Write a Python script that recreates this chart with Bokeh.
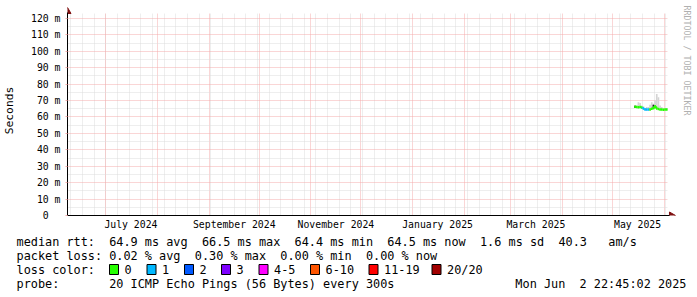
import math
import re
import pandas as pd
from bokeh.plotting import figure
from bokeh.layouts import column
from bokeh.models import Range1d, FixedTicker, ColumnDataSource
from bokeh.core.properties import value
from bokeh.embed import file_html
from bokeh.resources import INLINE

# ---------------- data ----------------
range_start = "2024-06-07 22:45:02"
range_end = "2025-06-02 22:45:02"

days = ["2025-05-14", "2025-05-15", "2025-05-16", "2025-05-17", "2025-05-18",
        "2025-05-19", "2025-05-20", "2025-05-21", "2025-05-22", "2025-05-23",
        "2025-05-24", "2025-05-25", "2025-05-26", "2025-05-27", "2025-05-28",
        "2025-05-29", "2025-05-30", "2025-05-31", "2025-06-01", "2025-06-02"]
median_ms = [66.2, 66.0, 65.9, 66.1, 65.8, 65.2, 64.6, 64.5, 64.5, 64.6,
             65.0, 65.3, 66.5, 65.2, 64.8, 64.6, 64.5, 64.4, 64.5, 64.5]
loss_count = [0, 0, 0, 0, 0, 1, 1, 1, 1, 0, 0, 0, 0, 0, 0, 0, 0, 0, 0, 0]
smoke_lo = [65.6, 65.5, 65.3, 65.5, 65.2, 64.7, 64.1, 64.0, 64.0, 64.1,
            64.5, 64.8, 65.8, 64.7, 64.3, 64.1, 64.0, 63.9, 64.0, 64.0]
smoke_hi = [66.8, 67.0, 69.0, 68.5, 67.0, 66.5, 65.5, 66.0, 66.0, 67.5,
            69.0, 68.0, 70.0, 74.0, 72.0, 67.0, 66.0, 65.5, 65.5, 65.5]
# dense (dark) part of the smoke, only where visible
dark_days = ["2025-05-14", "2025-05-25"]
dark_lo = [65.4, 64.8]
dark_hi = [66.8, 67.4]

y_ticks = [0, 10, 20, 30, 40, 50, 60, 70, 80, 90, 100, 110, 120]
y_tick_labels = ["0\u00a0\u00a0", "10 m", "20 m", "30 m", "40 m", "50 m", "60 m",
                 "70 m", "80 m", "90 m", "100 m", "110 m", "120 m"]
x_tick_dates = ["2024-07-16", "2024-09-16", "2024-11-16", "2025-01-16",
                "2025-03-16", "2025-05-16"]
x_tick_labels = ["July 2024", "September 2024", "November 2024",
                 "January 2025", "March 2025", "May 2025"]

loss_names = ["0", "1", "2", "3", "4-5", "6-10", "11-19", "20/20"]
loss_colors = ["#26ff00", "#00b8ff", "#0059ff", "#7e00ff", "#ff00ff",
               "#ff5500", "#ff0000", "#a10000"]

rtt_stats = ["64.9 ms avg", "66.5 ms max", "64.4 ms min", "64.5 ms now",
             "1.6 ms sd", "40.3"]
rtt_unit = "am/s"
loss_stats = ["0.02 % avg", "0.30 % max", "0.00 % min", "0.00 % now"]
probe_text = "20 ICMP Echo Pings (56 Bytes) every 300s"
stamp_text = "Mon Jun  2 22:45:02 2025"
watermark = "RRDTOOL / TOBI OETIKER"

# ---------------- helpers ----------------
DAY = 86400000.0
MONO = "DejaVu Sans Mono"


def ms(s):
    return pd.Timestamp(s).value / 1e6


def keep_spaces(s):
    return re.sub(r" {2,}", lambda m: " " + "\u00a0" * (len(m.group()) - 1), s)


def color_for(n):
    if n <= 3:
        return loss_colors[n]
    if n <= 5:
        return loss_colors[4]
    if n <= 10:
        return loss_colors[5]
    if n <= 19:
        return loss_colors[6]
    return loss_colors[7]


# canvas geometry of the graph area
GL, GR, GT, GB = 67, 667, 13, 215          # data area
FT = 5                                      # frame top (room for arrow)
W, H_TOP = 697, 232
Y_MAX = 123.0

t0, t1 = ms(range_start), ms(range_end)
xpp = (t1 - t0) / (GR - GL)                 # ms per pixel
ypp = Y_MAX / (GB - GT)                      # value per pixel
x_end = t1 + xpp * (W - GR)
y_end = Y_MAX + ypp * (GT - FT)


def X(px):
    return t0 + (px - GL) * xpp


def Y(py):
    return (GB - py) * ypp


p = figure(width=W, height=H_TOP, output_backend="svg", toolbar_location=None,
           x_range=Range1d(t0, x_end), y_range=Range1d(0, y_end),
           min_border_left=GL, min_border_right=0, min_border_top=FT,
           min_border_bottom=H_TOP - GB)
p.outline_line_color = None
p.background_fill_color = "white"
p.border_fill_color = "white"

# grid
MAJ, MIN = "#f4adad", "#dcdcdc"
month_starts = [ms(d) for d in pd.date_range("2024-07-01", "2025-06-01", freq="MS")]
week_starts = [ms(d) for d in pd.date_range("2024-06-10", "2025-06-02", freq="7D")]
p.xgrid.ticker = FixedTicker(ticks=month_starts, minor_ticks=week_starts)
p.ygrid.ticker = FixedTicker(ticks=y_ticks[1:], minor_ticks=[v + 5 for v in y_ticks[:-1]])
for g in (p.xgrid, p.ygrid):
    g.grid_line_color = MAJ
    g.grid_line_dash = "1 1"
    g.grid_line_width = 1
    g.minor_grid_line_color = MIN
    g.minor_grid_line_dash = "1 1"
    g.minor_grid_line_width = 1

# axes
xa = p.xaxis[0]
xa.ticker = FixedTicker(ticks=[ms(d) for d in x_tick_dates])
xa.major_label_overrides = {ms(d): t for d, t in zip(x_tick_dates, x_tick_labels)}
xa.major_tick_out = 0
xa.major_tick_in = 0
xa.minor_tick_out = 0
xa.minor_tick_in = 0
xa.major_label_standoff = 3
xa.axis_line_color = "black"
xa.bounds = (X(GL - 5), X(GR + 2))

ya = p.yaxis[0]
ya.ticker = FixedTicker(ticks=y_ticks)
ya.major_label_overrides = {v: t for v, t in zip(y_ticks, y_tick_labels)}
ya.major_tick_out = 2
ya.major_tick_in = 0
ya.major_tick_line_color = MAJ
ya.minor_tick_out = 0
ya.minor_tick_in = 0
ya.major_label_standoff = 5
ya.axis_line_color = "black"
ya.bounds = (Y(GB + 3), Y(GT - 1))
ya.axis_label = "Seconds"
ya.axis_label_standoff = 12
ya.axis_label_text_font = MONO
ya.axis_label_text_font_style = "normal"
ya.axis_label_text_font_size = "11.3px"
ya.axis_label_text_color = "black"

for a in (xa, ya):
    a.major_label_text_font = MONO
    a.major_label_text_font_size = "9.8px"
    a.major_label_text_color = "black"

# white masks outside the data area (grid lines must stop at its edges)
p.quad(left=[t0, t1], right=[x_end, x_end], bottom=[Y_MAX, 0], top=[y_end, y_end],
       fill_color="white", line_color=None)

# smoke
smk = ColumnDataSource(dict(
    left=[ms(d) for d in days],
    right=[ms(d) + DAY for d in days],
    bottom=smoke_lo, top=smoke_hi))
p.quad(left="left", right="right", bottom="bottom", top="top", source=smk,
       fill_color="#d4d4d4", line_color=None)
p.quad(left=[ms(d) for d in dark_days], right=[ms(d) + DAY for d in dark_days],
       bottom=dark_lo, top=dark_hi, fill_color="#1a1a1a", line_color=None)

# median line coloured by loss
x0 = [ms(d) for d in days]
x1 = [ms(d) + DAY for d in days]
cols = [color_for(n) for n in loss_count]
p.segment(x0=x0, y0=median_ms, x1=x1, y1=median_ms, line_color=cols,
          line_width=2.5)
p.segment(x0=x1[:-1], y0=median_ms[:-1], x1=x1[:-1], y1=median_ms[1:],
          line_color=cols[1:], line_width=2.5)

# axis arrows
arrow_col = "#7f1010"
p.scatter(x=[t0], y=[Y(11)], marker="triangle", size=7, fill_color=arrow_col,
          line_color=arrow_col)
p.scatter(x=[X(GR + 4)], y=[0], marker="triangle", angle=-math.pi / 2, size=7,
          fill_color=arrow_col, line_color=arrow_col)

# watermark
p.text(x=[X(686)], y=[Y(5)], text=[watermark], angle=-math.pi / 2,
       text_font=value(MONO), text_font_size="8.3px", text_color="#b0b0b0",
       text_align="left", text_baseline="middle")

# ---------------- legend block (pixel coordinates) ----------------
H_BOT = 297 - H_TOP
q = figure(width=W, height=H_BOT, output_backend="svg", toolbar_location=None,
           x_range=Range1d(0, W), y_range=Range1d(297, H_TOP),
           x_axis_location=None, y_axis_location=None,
           min_border_left=0, min_border_right=0, min_border_top=0,
           min_border_bottom=0)
q.outline_line_color = None
q.grid.visible = False
q.background_fill_color = "white"
q.border_fill_color = "white"

for fig in (p, q):
    try:
        fig.frame_align = False
    except Exception:
        pass

L1, L2, L3, L4 = 241, 255, 269, 283
line1 = "median rtt:  " + "  ".join(rtt_stats) + "   " + rtt_unit
line2 = "packet loss: " + "  ".join(loss_stats)
line4 = "probe:       " + probe_text

sw_x = [109, 146.5, 184, 221, 258.5, 310, 368.5, 431.5]
tx = [16, 16, 16, 16, 686] + [v + 15 for v in sw_x]
ty = [L1, L2, L3, L4, L4] + [L3] * len(sw_x)
tt = [line1, line2, "loss color:", line4, stamp_text] + loss_names
ta = ["left", "left", "left", "left", "right"] + ["left"] * len(sw_x)
tt = [keep_spaces(s) for s in tt]

q.text(x=tx, y=ty, text=tt, text_align=ta, text_baseline="middle",
       text_font=value(MONO), text_font_size="11.85px", text_color="black")
q.quad(left=sw_x, right=[v + 9 for v in sw_x], top=[L3 - 5] * 8,
       bottom=[L3 + 5] * 8, fill_color=loss_colors, line_color="black",
       line_width=1)

layout = column(p, q, spacing=0)
open("out.html", "w").write(file_html(layout, INLINE))
